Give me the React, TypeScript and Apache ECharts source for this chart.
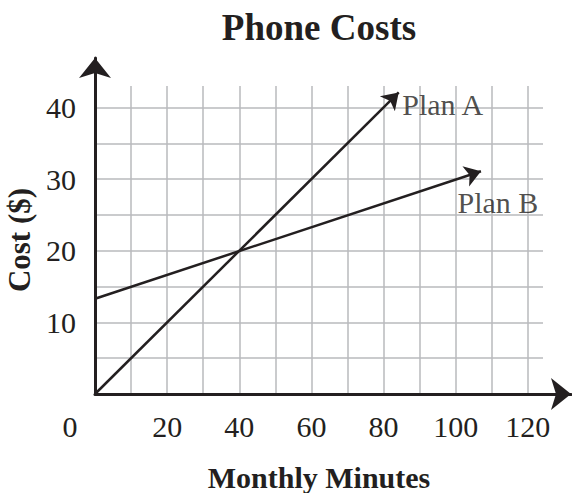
import React, { useEffect, useRef } from "react";
import * as echarts from "echarts";

const titleText = "Phone Costs";
const xName = "Monthly Minutes";
const yName = "Cost ($)";
const xTickLabels = [0, 20, 40, 60, 80, 100, 120];
const yTickLabels = [10, 20, 30, 40];
const xGridValues = [10, 20, 30, 40, 50, 60, 70, 80, 90, 100, 110, 120];
const yGridValues = [5, 10, 15, 20, 25, 30, 35, 40];
const planNames = ["Plan A", "Plan B"];
const planAMinutes = [0, 84.2];
const planACost = [0, 42.1];
const planBMinutes = [0, 107];
const planBCost = [13.3, 31.1];

const INK = "#231f20";
const GRIDC = "#b9babc";
const SERIF = "'Liberation Serif', 'Times New Roman', serif";

export default function App() {
  const ref = useRef<HTMLDivElement>(null);
  useEffect(() => {
    if (!ref.current) return;
    const chart = echarts.init(ref.current, undefined, { renderer: "svg" });
    const planLines = [
      { name: planNames[0], coords: planAMinutes.map((m, i) => [m, planACost[i]]) },
      { name: planNames[1], coords: planBMinutes.map((m, i) => [m, planBCost[i]]) },
    ];
    const ends = [
      { name: planNames[0], value: [planAMinutes[1], planACost[1]], label: { offset: [3, 12] } },
      { name: planNames[1], value: [planBMinutes[1], planBCost[1]], label: { offset: [-24, 31] } },
    ];
    chart.setOption({
      animation: false,
      textStyle: { fontFamily: SERIF, color: INK },
      title: {
        text: titleText,
        left: 314,
        textAlign: "center",
        top: 4,
        textStyle: { fontFamily: SERIF, fontWeight: "bold", fontSize: 37, color: INK },
      },
      grid: [
        { left: 95, top: 86, width: 448, bottom: 99, containLabel: false, outerBoundsMode: "none" },
        { left: 95, top: 58, right: 1, bottom: 99, containLabel: false, outerBoundsMode: "none" },
      ],
      xAxis: [
        {
          gridIndex: 0,
          type: "value",
          min: 0,
          max: 124.2,
          interval: 10,
          axisLine: { show: false },
          axisTick: { show: false },
          splitLine: { show: false },
          showMaxLabel: false,
          axisLabel: {
            margin: 17,
            fontFamily: SERIF,
            fontSize: 30,
            color: INK,
            formatter: (v: number) => {
              if (!xTickLabels.includes(v)) return "";
              if (v === 0) return "{o|0}";
              return String(v);
            },
            rich: {
              o: { fontFamily: SERIF, fontSize: 30, color: INK, padding: [0, 50, 0, 0] },
            },
          },
          name: xName,
          nameLocation: "middle",
          nameGap: 68,
          nameTextStyle: { fontFamily: SERIF, fontWeight: "bold", fontSize: 30, color: INK },
        },
        {
          gridIndex: 1,
          type: "value",
          min: 0,
          max: 1,
          z: 10,
          axisLine: {
            show: true,
            symbol: ["none", "arrow"],
            symbolSize: [24, 20],
            lineStyle: { color: INK, width: 3 },
          },
          axisTick: { show: false },
          axisLabel: { show: false },
          splitLine: { show: false },
        },
      ],
      yAxis: [
        {
          gridIndex: 0,
          type: "value",
          min: 0,
          max: 43,
          interval: 10,
          axisLine: { show: false },
          axisTick: { show: false },
          splitLine: { show: false },
          showMaxLabel: false,
          axisLabel: {
            margin: 19,
            fontFamily: SERIF,
            fontSize: 30,
            color: INK,
            formatter: (v: number) => (yTickLabels.includes(v) ? String(v) : ""),
          },
          name: yName,
          nameLocation: "middle",
          nameRotate: 90,
          nameGap: 57,
          nameTextStyle: { fontFamily: SERIF, fontWeight: "bold", fontSize: 31, color: INK },
        },
        {
          gridIndex: 1,
          type: "value",
          min: 0,
          max: 1,
          z: 10,
          axisLine: {
            show: true,
            symbol: ["none", "arrow"],
            symbolSize: [24, 20],
            lineStyle: { color: INK, width: 3 },
          },
          axisTick: { show: false },
          axisLabel: { show: false },
          splitLine: { show: false },
        },
      ],
      series: [
        {
          type: "scatter",
          xAxisIndex: 0,
          yAxisIndex: 0,
          z: 1,
          symbolSize: 1,
          itemStyle: { color: "rgba(0,0,0,0)" },
          data: ends,
          markLine: {
            silent: true,
            symbol: ["none", "none"],
            label: { show: false },
            lineStyle: { color: GRIDC, width: 1.5, type: "solid" },
            data: [
              ...xGridValues.map((v) => ({ xAxis: v })),
              ...yGridValues.map((v) => ({ yAxis: v })),
            ],
          },
        },
        {
          type: "lines",
          coordinateSystem: "cartesian2d",
          xAxisIndex: 0,
          yAxisIndex: 0,
          z: 5,
          symbol: ["none", "arrow"],
          symbolSize: 16,
          lineStyle: { color: INK, width: 2.5, opacity: 1 },
          data: planLines,
        },
        {
          type: "scatter",
          xAxisIndex: 0,
          yAxisIndex: 0,
          z: 6,
          symbolSize: 1,
          itemStyle: { color: "rgba(0,0,0,0)" },
          label: {
            show: true,
            position: "right",
            distance: 0,
            formatter: (p: any) => p.name,
            fontFamily: SERIF,
            fontSize: 30,
            color: INK,
            textBorderWidth: 0,
          },
          data: ends,
        },
      ],
    });
    return () => chart.dispose();
  }, []);
  return (
    <div
      ref={ref}
      style={{ position: "fixed", left: 0, top: 0, width: 572, height: 493, background: "#fff" }}
    />
  );
}
